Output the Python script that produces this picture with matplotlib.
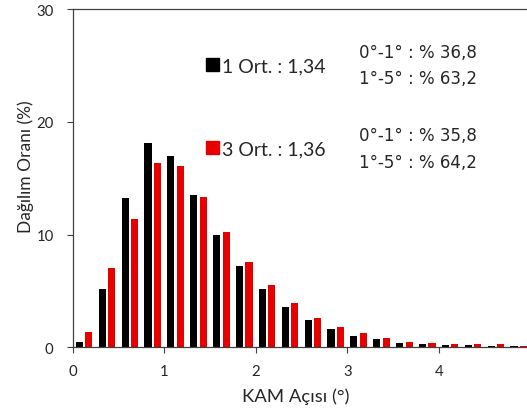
import numpy as np
import matplotlib
matplotlib.use("Agg")
import matplotlib.pyplot as plt

# KAM angle distribution, bins of 0.25 degree from 0 to 5
bin_centers = np.arange(0.125, 5.0, 0.25)
pass_1 = [0.5, 5.2, 13.2, 18.1, 17.0, 13.5, 10.0, 7.2, 5.2, 3.6,
          2.4, 1.6, 1.0, 0.7, 0.4, 0.3, 0.2, 0.2, 0.1, 0.1]
pass_3 = [1.4, 7.0, 11.4, 16.3, 16.1, 13.3, 10.2, 7.6, 5.5, 3.9,
          2.6, 1.8, 1.3, 0.8, 0.5, 0.4, 0.25, 0.25, 0.25, 0.1]
x_ticks = [0, 1, 2, 3, 4, 5]
y_ticks = [0, 10, 20, 30]
legend_1 = "1 Ort. : 1,34"
legend_3 = "3 Ort. : 1,36"
stats_1 = ["0°-1° : % 36,8", "1°-5° : % 63,2"]
stats_3 = ["0°-1° : % 35,8", "1°-5° : % 64,2"]

black = "#000000"
red = "#E60000"
plt.rcParams["font.family"] = ["Lato", "DejaVu Sans"]
txt_color = "#262626"

W, H = 527, 414
fig = plt.figure(figsize=(W / 100, H / 100), dpi=100)
ax = fig.add_axes([72.7 / W, 1 - 348.3 / H, (530.2 - 72.7) / W, (348.3 - 10) / H])


def fx(px):
    return px / W


def fy(py):
    return 1 - py / H


w = 0.078
off = 0.052
ax.bar(bin_centers - off, pass_1, width=w, color=black, zorder=2)
ax.bar(bin_centers + off, pass_3, width=w, color=red, zorder=2)

ax.set_xlim(0, 5)
ax.set_ylim(0, 30)
ax.set_xticks(x_ticks)
ax.set_yticks(y_ticks)
ax.tick_params(axis="both", direction="out", length=4.3, width=0.8,
               color="#404040", labelsize=10.7, labelcolor=txt_color)
ax.tick_params(axis="x", pad=7.5)
ax.tick_params(axis="y", pad=9.5)
for side in ["left", "bottom", "top"]:
    ax.spines[side].set_color("#404040")
    ax.spines[side].set_linewidth(0.9)
ax.spines["right"].set_visible(False)

fig.text(fx(31), fy(167), "Dağılım Oranı (%)", rotation=90, rotation_mode="anchor",
         ha="center", va="baseline", fontsize=12.5, color=txt_color)
fig.text(fx(296), fy(402), "KAM Açısı (°)",
         ha="center", va="baseline", fontsize=13.3, color=txt_color)

# Series labels with square markers
for top, base, col, lab in [(59, 72.5, black, legend_1), (142, 155, red, legend_3)]:
    fig.patches.append(plt.Rectangle((fx(206), fy(top + 13)), 13 / W, 13 / H,
                                     transform=fig.transFigure, color=col))
    fig.text(fx(222.5), fy(base), lab, ha="left", va="baseline",
             fontsize=14, color=txt_color)

# Share of angles below / above 1 degree
for bases, lines in [((58, 84.5), stats_1), ((141, 167.7), stats_3)]:
    for base, s in zip(bases, lines):
        fig.text(fx(359), fy(base), s, ha="left", va="baseline",
                 fontsize=12, color=txt_color, family="DejaVu Sans")

fig.savefig("out.png", dpi=100)
